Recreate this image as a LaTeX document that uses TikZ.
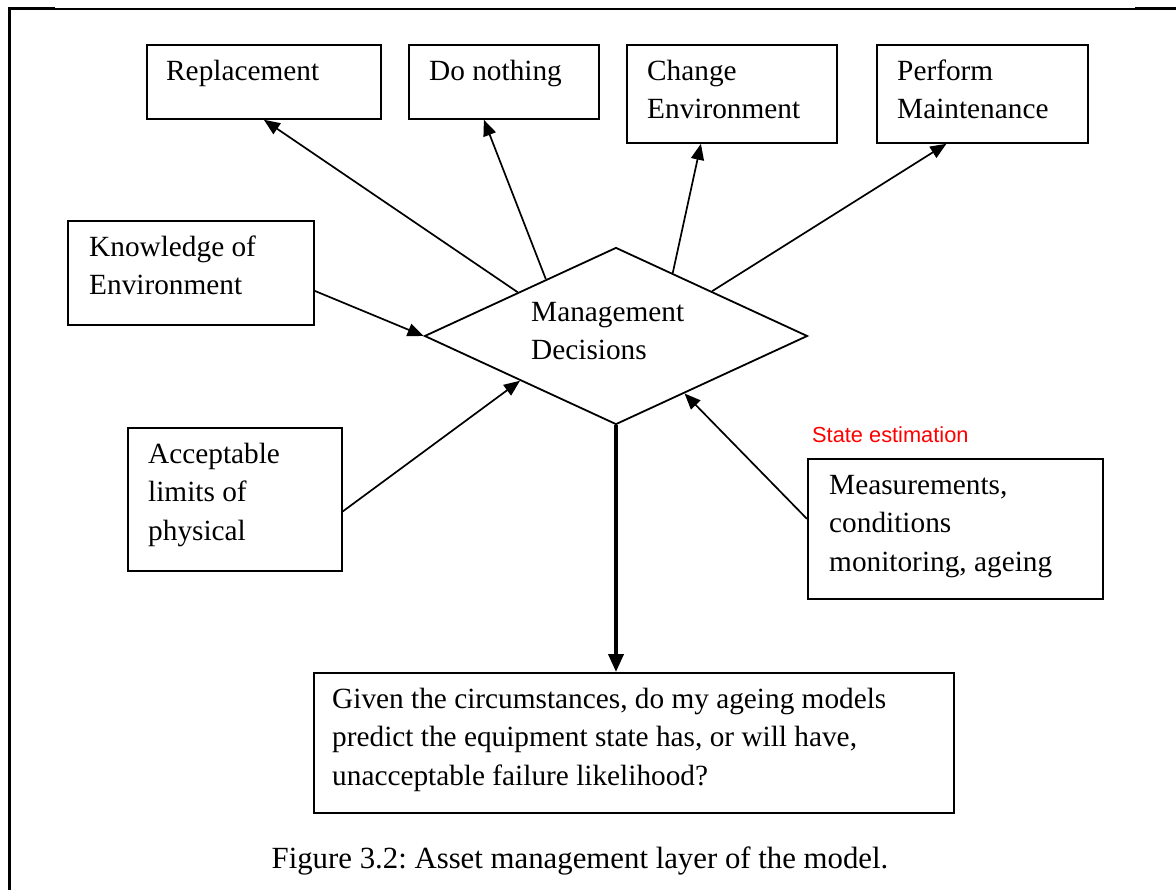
\documentclass[tikz,border=0pt]{standalone}
\usepackage{fontspec}
\setmainfont{Liberation Serif}
\newfontfamily\arialfont{Liberation Sans}
\usetikzlibrary{arrows.meta, positioning, shapes.geometric}
\newcommand{\boxfont}{\fontsize{29.3pt}{38.5pt}\selectfont}
\frenchspacing

\begin{document}
\begin{tikzpicture}[x=1pt, y=-1pt,
    b/.style={draw, line width=1.8pt, anchor=north west, inner sep=0pt},
    txt/.style={anchor=north west, inner sep=0pt, align=left, font=\boxfont},
    arr/.style={-{Triangle[length=16pt, width=13pt]}, line width=1.7pt}]
    \useasboundingbox (0,0) rectangle (1176,890);
    % page frame
    \draw[line width=1.6pt] (8,9) -- (1176,9);
    \draw[line width=3pt] (8,9) -- (55,9);
    \draw[line width=3pt] (1135,9) -- (1176,9);
    \draw[line width=3pt] (9,8) -- (9,890);
    % options along the top
    \node[b, minimum width=234pt, minimum height=74pt] (rep) at (146,44) {};
    \node[b, minimum width=190pt, minimum height=74pt] (dn) at (408,44) {};
    \node[b, minimum width=210pt, minimum height=98pt] (ce) at (626,44) {};
    \node[b, minimum width=211pt, minimum height=98pt] (pm) at (876,44) {};
    \node[txt] (rep-t) at ([xshift=20pt, yshift=-9pt]rep.north west) {\strut Replacement};
    \node[txt] (dn-t) at ([xshift=21pt, yshift=-9pt]dn.north west) {\strut Do nothing};
    \node[txt] (ce-t) at ([xshift=21pt, yshift=-9pt]ce.north west) {\strut Change\\Environment};
    \node[txt] (pm-t) at ([xshift=21pt, yshift=-9pt]pm.north west) {\strut Perform\\Maintenance};
    % inputs
    \node[b, minimum width=246pt, minimum height=104pt] (ke) at (67,220) {};
    \node[b, minimum width=214pt, minimum height=143pt] (al) at (127,427) {};
    \node[b, minimum width=295pt, minimum height=140pt] (ms) at (807,458) {};
    \node[txt] (ke-t) at ([xshift=22pt, yshift=-9pt]ke.north west) {\strut Knowledge of\\Environment};
    \node[txt] (al-t) at ([xshift=21pt, yshift=-9pt]al.north west) {\strut Acceptable\\limits of\\physical};
    \node[txt] (ms-t) at ([xshift=22pt, yshift=-9pt]ms.north west) {\strut Measurements,\\conditions\\monitoring, ageing};
    \node[anchor=base west, inner sep=0pt, text=red, font=\arialfont\fontsize{21.8pt}{26pt}\selectfont] (se) at (812,443) {State estimation};
    % decision
    \node[draw, diamond, line width=1.8pt, minimum width=383pt, minimum height=177pt, aspect=2.16, inner sep=0pt] (md) at (616,336) {};
    \node[txt, anchor=west] (md-t) at (531,331) {Management\\Decisions};
    \node[b, minimum width=640pt, minimum height=140pt] (q) at (313,672) {};
    \node[txt] (q-t) at ([xshift=19pt, yshift=-9pt]q.north west) {\strut Given the circumstances, do my ageing models\\predict the equipment state has, or will have,\\unacceptable failure likelihood?};
    \draw[arr] (md.156) -- (rep.south);
    \draw[arr] (md.141) -- ([xshift=-20pt]dn.south);
    \draw[arr] (md.48) -- ([xshift=-31pt]ce.south);
    \draw[arr] (md.25) -- ([xshift=-36pt]pm.south);
    \draw[arr] ([yshift=-18pt]ke.east) -- (md.west);
    \draw[arr] ([yshift=-12pt]al.east) -- (md.205);
    \draw[arr] ([yshift=10pt]ms.west) -- (md.320);
    \draw[-{Triangle[length=18pt, width=15pt]}, line width=3.8pt] (md.south) -- (md.south |- q.north);
    \node[anchor=base, inner sep=0pt, font=\fontsize{30.8pt}{36pt}\selectfont] (cap) at (580,868) {Figure 3.2: Asset management layer of the model.};
\end{tikzpicture}
\end{document}
